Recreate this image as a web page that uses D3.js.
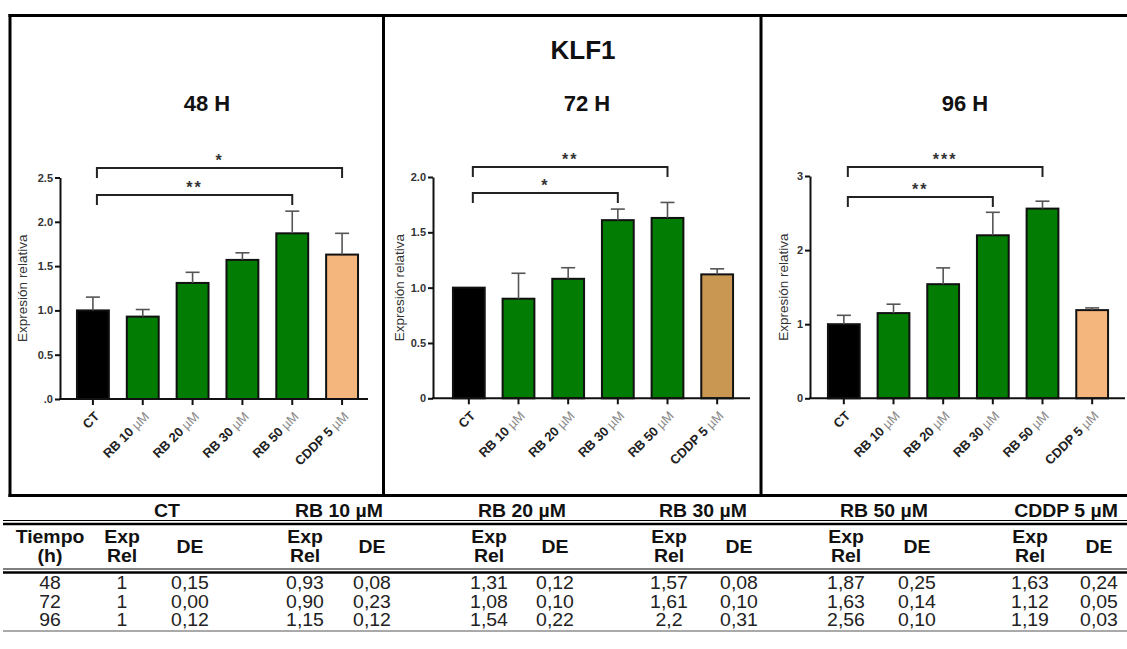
<!DOCTYPE html>
<html>
<head>
<meta charset="utf-8">
<script src="https://cdn.jsdelivr.net/npm/d3@7"></script>
<style>
  body { margin: 0; background: #fff; }
  svg { display: block; }
  text { font-family: "Liberation Sans", Arial, sans-serif; }
</style>
</head>
<body>
<svg id="chart" width="1127" height="649"></svg>
<script>
// ---- data (relative KLF1 expression, mean and SD, as tabulated) ----
const categories = ["CT", "RB 10 µM", "RB 20 µM", "RB 30 µM", "RB 50 µM", "CDDP 5 µM"];
const times = ["48", "72", "96"];

const expRel48 = ["1", "0,93", "1,31", "1,57", "1,87", "1,63"];
const de48     = ["0,15", "0,08", "0,12", "0,08", "0,25", "0,24"];
const expRel72 = ["1", "0,90", "1,08", "1,61", "1,63", "1,12"];
const de72     = ["0,00", "0,23", "0,10", "0,10", "0,14", "0,05"];
const expRel96 = ["1", "1,15", "1,54", "2,2", "2,56", "1,19"];
const de96     = ["0,12", "0,12", "0,22", "0,31", "0,10", "0,03"];

const yTicks48 = [0, 0.5, 1, 1.5, 2, 2.5];
const yTickLabels48 = [".0", "0.5", "1.0", "1.5", "2.0", "2.5"];
const yTicks72 = [0, 0.5, 1, 1.5, 2];
const yTickLabels72 = ["0", "0.5", "1.0", "1.5", "2.0"];
const yTicks96 = [0, 1, 2, 3];
const yTickLabels96 = ["0", "1", "2", "3"];

// significance brackets: [from, to, stars]
const sig48 = [["CT", "CDDP 5 µM", "*"], ["CT", "RB 50 µM", "**"]];
const sig72 = [["CT", "RB 50 µM", "**"], ["CT", "RB 30 µM", "*"]];
const sig96 = [["CT", "RB 50 µM", "***"], ["CT", "RB 30 µM", "**"]];

const toNum = s => +s.replace(",", ".");

// ---- layout ----
const svg = d3.select("#chart");
const GREEN = "#027c02";

const panels = [
  { time: "48", exp: expRel48, de: de48, ticks: yTicks48, tickLabels: yTickLabels48, sig: sig48,
    axisX: 60, range: [68, 367], y0: 399, yTop: 177.5, yMax: 2.5, baseEnd: 368,
    titleX: 207, ylabX: 22, sigY: [168, 195], cddp: "#f4b67c" },
  { time: "72", exp: expRel72, de: de72, ticks: yTicks72, tickLabels: yTickLabels72, sig: sig72,
    axisX: 433, range: [444, 742], y0: 398.3, yTop: 177, yMax: 2, baseEnd: 750,
    titleX: 587, ylabX: 399, sigY: [167, 193], cddp: "#c99752" },
  { time: "96", exp: expRel96, de: de96, ticks: yTicks96, tickLabels: yTickLabels96, sig: sig96,
    axisX: 810, range: [819, 1117], y0: 398.3, yTop: 176, yMax: 3, baseEnd: 1125,
    titleX: 965, ylabX: 783, sigY: [167, 197], cddp: "#f4b67c" }
];

// frame around the three panels
const frame = svg.append("g").attr("stroke", "#000").attr("stroke-width", 3).attr("fill", "none");
frame.append("line").attr("x1", 8.5).attr("x2", 1127).attr("y1", 15.5).attr("y2", 15.5);
frame.append("line").attr("x1", 8.5).attr("x2", 1127).attr("y1", 495.5).attr("y2", 495.5);
frame.append("line").attr("x1", 10).attr("x2", 10).attr("y1", 14).attr("y2", 497);
frame.append("line").attr("x1", 383.5).attr("x2", 383.5).attr("y1", 14).attr("y2", 497);
frame.append("line").attr("x1", 761).attr("x2", 761).attr("y1", 14).attr("y2", 497);

// gene name
svg.append("text").attr("x", 583).attr("y", 59).attr("text-anchor", "middle")
  .attr("font-size", 26).attr("font-weight", "bold").attr("fill", "#111").text("KLF1");

panels.forEach(p => {
  const g = svg.append("g");
  const values = p.exp.map(toNum);
  const sds = p.de.map(toNum);

  const x = d3.scaleBand().domain(categories).range(p.range).paddingInner(0.36).paddingOuter(0.18);
  const y = d3.scaleLinear().domain([0, p.yMax]).range([p.y0, p.yTop]);
  const cx = c => x(c) + x.bandwidth() / 2;

  // title
  g.append("text").attr("x", p.titleX).attr("y", 111).attr("text-anchor", "middle")
    .attr("font-size", 22).attr("font-weight", "bold").attr("fill", "#111").text(p.time + " H");

  // bars
  g.selectAll("rect.bar").data(categories).join("rect")
    .attr("class", "bar")
    .attr("x", d => x(d)).attr("width", x.bandwidth())
    .attr("y", (d, i) => y(values[i]))
    .attr("height", (d, i) => y(0) - y(values[i]))
    .attr("fill", (d, i) => i === 0 ? "#000" : (i === 5 ? p.cddp : GREEN))
    .attr("stroke", "#111").attr("stroke-width", 2);

  // upper error bars
  const eb = g.append("g").attr("stroke", "#555").attr("stroke-width", 1.6);
  categories.forEach((c, i) => {
    if (sds[i] <= 0) return;
    const top = y(values[i] + sds[i]);
    eb.append("line").attr("x1", cx(c)).attr("x2", cx(c)).attr("y1", y(values[i])).attr("y2", top);
    eb.append("line").attr("x1", cx(c) - 7).attr("x2", cx(c) + 7).attr("y1", top).attr("y2", top);
  });

  // y axis
  const yAxis = d3.axisLeft(y).tickValues(p.ticks)
    .tickFormat((d, i) => p.tickLabels[i]).tickSize(5).tickSizeOuter(0);
  const ya = g.append("g").attr("transform", `translate(${p.axisX},0)`).call(yAxis);
  ya.select(".domain").attr("stroke", "#111").attr("stroke-width", 2);
  ya.selectAll(".tick line").attr("stroke", "#111").attr("stroke-width", 2);
  ya.selectAll(".tick text").attr("font-size", 11).attr("font-weight", "bold")
    .attr("fill", "#333").attr("font-family", "Liberation Sans, Arial, sans-serif").attr("x", -7);

  // x axis
  const xAxis = d3.axisBottom(x).tickSize(6).tickSizeOuter(0).tickFormat("");
  const xa = g.append("g").attr("transform", `translate(0,${p.y0})`).call(xAxis);
  xa.select(".domain").remove();
  xa.selectAll(".tick line").attr("stroke", "#111").attr("stroke-width", 2);
  g.append("line").attr("x1", p.axisX - 1).attr("x2", p.baseEnd)
    .attr("y1", p.y0).attr("y2", p.y0).attr("stroke", "#111").attr("stroke-width", 2);

  // rotated category labels
  categories.forEach(c => {
    const parts = c.split(" µM");
    const t = g.append("text")
      .attr("transform", `translate(${cx(c) + 4},${p.y0 + 15}) rotate(-45)`)
      .attr("text-anchor", "end").attr("dy", "0.35em")
      .attr("font-size", 13).attr("font-weight", "bold").attr("fill", "#222");
    t.append("tspan").text(parts[0]);
    if (parts.length > 1) t.append("tspan").attr("fill", "#8a8a8a").attr("font-weight", "normal").text(" µM");
  });

  // y label
  g.append("text")
    .attr("transform", `translate(${p.ylabX},${(p.y0 + p.yTop) / 2}) rotate(-90)`)
    .attr("text-anchor", "middle").attr("dy", "0.35em")
    .attr("font-size", 13.5).attr("fill", "#333").text("Expresión relativa");

  // significance brackets
  p.sig.forEach((s, k) => {
    const ly = p.sigY[k];
    const xa1 = cx(s[0]) + 4, xb = cx(s[1]);
    g.append("path")
      .attr("d", `M${xa1},${ly + 10}V${ly}H${xb}V${ly + 10}`)
      .attr("fill", "none").attr("stroke", "#222").attr("stroke-width", 2);
    g.append("text").attr("x", (xa1 + xb) / 2).attr("y", ly - 2)
      .attr("text-anchor", "middle").attr("font-size", 16).attr("font-weight", "bold")
      .attr("letter-spacing", 2).attr("fill", "#333").text(s[2]);
  });
});

// ---- summary table ----
const tbl = svg.append("g");
const colX = [[122, 190], [305, 372], [489, 555], [669, 739], [846, 917], [1030, 1099]];
const headX = [167, 339, 522, 703, 884, 1066];
const cell = (x, y, txt, bold, fill) =>
  tbl.append("text")
    .attr("transform", `translate(${x},${y}) scale(1.08,1)`)
    .attr("text-anchor", "middle").attr("dy", "0.36em")
    .attr("font-size", 18).attr("font-weight", bold ? "bold" : "normal")
    .attr("fill", fill || "#111").text(txt);

const rule = (y, w, col) => tbl.append("line").attr("x1", 3).attr("x2", 1127)
  .attr("y1", y).attr("y2", y).attr("stroke", col || "#000").attr("stroke-width", w);

categories.forEach((c, i) => cell(headX[i], 511, c, true));
rule(520.5, 1); rule(524, 2.5);
cell(50, 537, "Tiempo", true); cell(50, 556, "(h)", true);
categories.forEach((c, i) => {
  cell(colX[i][0], 537, "Exp", true);
  cell(colX[i][0], 556, "Rel", true);
  cell(colX[i][1], 547, "DE", true);
});
rule(569, 1); rule(572.5, 2.5);

const rowsExp = [expRel48, expRel72, expRel96];
const rowsDe = [de48, de72, de96];
const rowY = [583, 602, 620];
times.forEach((t, r) => {
  cell(50, rowY[r], t, false, "#222");
  categories.forEach((c, i) => {
    cell(colX[i][0], rowY[r], rowsExp[r][i], false, "#222");
    cell(colX[i][1], rowY[r], rowsDe[r][i], false, "#222");
  });
});
rule(631, 1, "#555");
</script>
</body>
</html>
